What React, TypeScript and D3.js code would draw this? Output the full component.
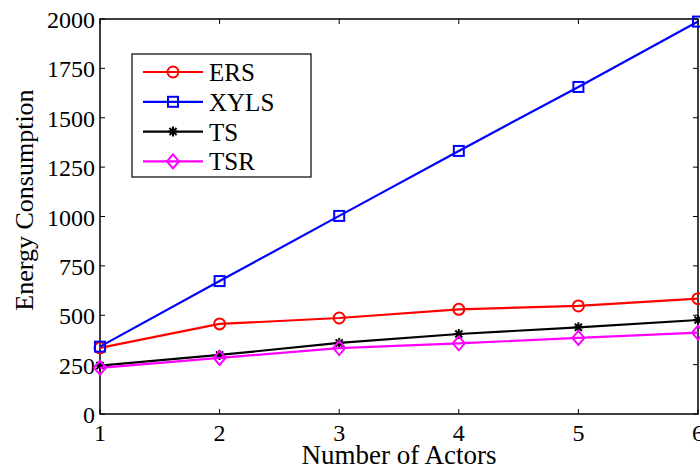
import React, { useEffect, useRef } from 'react';
import * as d3 from 'd3';

const actors = [1, 2, 3, 4, 5, 6];
const ersValues = [335, 456, 486, 530, 547, 584];
const xylsValues = [341, 673, 1003, 1332, 1656, 1987];
const tsValues = [245, 299, 360, 405, 439, 476];
const tsrValues = [234, 284, 334, 358, 385, 412];
const yTicks = [0, 250, 500, 750, 1000, 1250, 1500, 1750, 2000];

const seriesList = [
  { name: 'ERS', values: ersValues, color: '#ff0000', marker: 'circle' },
  { name: 'XYLS', values: xylsValues, color: '#0000ff', marker: 'square' },
  { name: 'TS', values: tsValues, color: '#000000', marker: 'star' },
  { name: 'TSR', values: tsrValues, color: '#ff00ff', marker: 'diamond' },
];

const App = () => {
  const svgRef = useRef<SVGSVGElement>(null);

  useEffect(() => {
    if (!svgRef.current) return;
    const svg = d3.select(svgRef.current);
    svg.selectAll('*').remove();

    const width = 700;
    const height = 471;
    const margin = { top: 19, right: 2, bottom: 57, left: 100 };
    const font = '"Liberation Serif", "Times New Roman", serif';

    const x = d3.scaleLinear().domain([1, 6]).range([margin.left, width - margin.right]);
    const y = d3.scaleLinear().domain([0, 2000]).range([height - margin.bottom, margin.top]);

    // ticks (inside, like matlab)
    const g = svg.append('g');
    actors.forEach(v => {
      g.append('line').attr('x1', x(v)).attr('x2', x(v))
        .attr('y1', y(0)).attr('y2', y(0) - 5).attr('stroke', '#000');
      g.append('line').attr('x1', x(v)).attr('x2', x(v))
        .attr('y1', y(2000)).attr('y2', y(2000) + 5).attr('stroke', '#000');
      g.append('text').attr('x', x(v)).attr('y', y(0) + 27)
        .attr('text-anchor', 'middle').style('font-family', font).style('font-size', '24px')
        .text(v);
    });
    yTicks.forEach(v => {
      g.append('line').attr('x1', x(1)).attr('x2', x(1) + 5)
        .attr('y1', y(v)).attr('y2', y(v)).attr('stroke', '#000');
      g.append('line').attr('x1', x(6)).attr('x2', x(6) - 5)
        .attr('y1', y(v)).attr('y2', y(v)).attr('stroke', '#000');
      g.append('text').attr('x', x(1) - 5).attr('y', y(v) + 9)
        .attr('text-anchor', 'end').style('font-family', font).style('font-size', '24px')
        .text(v);
    });
    g.append('rect').attr('x', x(1)).attr('y', y(2000))
      .attr('width', x(6) - x(1)).attr('height', y(0) - y(2000))
      .attr('fill', 'none').attr('stroke', '#000').attr('stroke-width', 1.5);

    const drawMarker = (sel: any, type: string, color: string, cx: number, cy: number) => {
      if (type === 'circle') {
        sel.append('circle').attr('cx', cx).attr('cy', cy).attr('r', 5.5)
          .attr('fill', 'none').attr('stroke', color).attr('stroke-width', 2);
      } else if (type === 'square') {
        sel.append('rect').attr('x', cx - 5).attr('y', cy - 5).attr('width', 10).attr('height', 10)
          .attr('fill', 'none').attr('stroke', color).attr('stroke-width', 2);
      } else if (type === 'diamond') {
        sel.append('path').attr('d', `M${cx},${cy - 7}L${cx + 6},${cy}L${cx},${cy + 7}L${cx - 6},${cy}Z`)
          .attr('fill', 'none').attr('stroke', color).attr('stroke-width', 2);
      } else {
        for (let k = 0; k < 4; k++) {
          const a = (k * Math.PI) / 4;
          sel.append('line')
            .attr('x1', cx - 5 * Math.cos(a)).attr('y1', cy - 5 * Math.sin(a))
            .attr('x2', cx + 5 * Math.cos(a)).attr('y2', cy + 5 * Math.sin(a))
            .attr('stroke', color).attr('stroke-width', 2);
        }
      }
    };

    const line = d3.line<number>().x((d, i) => x(actors[i])).y(d => y(d));

    seriesList.forEach(s => {
      const sg = svg.append('g');
      sg.append('path').attr('d', line(s.values) as string)
        .attr('fill', 'none').attr('stroke', s.color).attr('stroke-width', 2.2);
      s.values.forEach((v, i) => drawMarker(sg, s.marker, s.color, x(actors[i]), y(v)));
    });

    // legend
    const lg = svg.append('g');
    lg.append('rect').attr('x', 132).attr('y', 54).attr('width', 179).attr('height', 123)
      .attr('fill', '#fff').attr('stroke', '#000').attr('stroke-width', 1.2);
    seriesList.forEach((s, i) => {
      const ly = 72 + i * 29.8;
      lg.append('line').attr('x1', 143).attr('x2', 203).attr('y1', ly).attr('y2', ly)
        .attr('stroke', s.color).attr('stroke-width', 2.2);
      drawMarker(lg, s.marker, s.color, 173, ly);
      lg.append('text').attr('x', 209).attr('y', ly + 9)
        .style('font-family', font).style('font-size', '25px').text(s.name);
    });

    // axis labels
    svg.append('text').attr('x', (x(1) + x(6)) / 2).attr('y', 464)
      .attr('text-anchor', 'middle').style('font-family', font).style('font-size', '27px')
      .text('Number of Actors');
    svg.append('text').attr('transform', 'translate(33,200) rotate(-90)')
      .attr('text-anchor', 'middle').style('font-family', font).style('font-size', '26px')
      .text('Energy Consumption');
  }, []);

  return (
    <svg ref={svgRef} width={700} height={471}
      style={{ position: 'absolute', left: 0, top: 0, background: '#fff' }} />
  );
};

export default App;
